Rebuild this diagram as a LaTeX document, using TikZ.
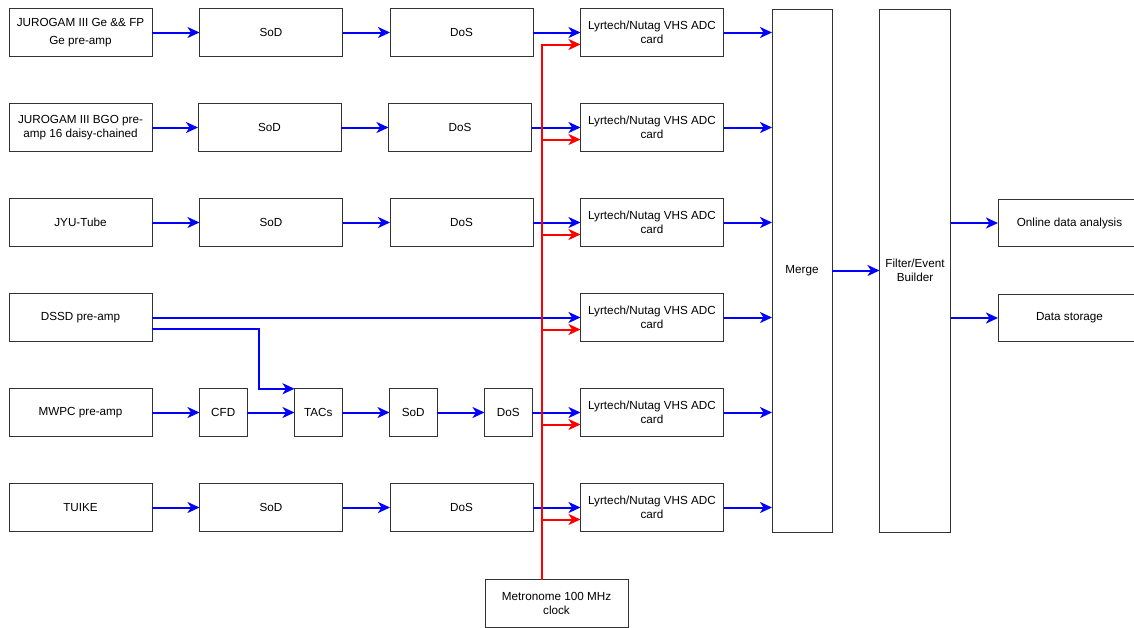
\documentclass[tikz,border=0pt]{standalone}
\usepackage{fontspec}
\setmainfont{Liberation Sans}
\usetikzlibrary{arrows.meta,positioning}

\begin{document}
\begin{tikzpicture}[x=1pt,y=-1pt,>={Stealth[length=12pt,width=11pt,inset=3.5pt]},
                    node distance=47.5pt and 47.5pt]
  \tikzstyle{box}=[draw=black!80,line width=0.9pt,outer sep=0pt,
                   minimum width=143pt,minimum height=47.5pt,inner sep=1pt,
                   align=center,font=\fontsize{11.7}{14}\selectfont]
  \tikzstyle{small}=[box,minimum width=47.5pt]
  \tikzstyle{sig}=[->,blue,line width=2pt]
  \tikzstyle{clk}=[->,red,line width=2pt]

  \useasboundingbox (0,0) rectangle (1134,627);

  \node[box]   (src1) at (80.5,32.5) {JUROGAM III Ge \&\& FP\\[4pt]Ge pre-amp};
  \node[box]   (sod1) [right=of src1] {SoD};
  \node[box]   (dos1) [right=of sod1] {DoS};
  \node[box]   (adc1) [right=of dos1] {Lyrtech/Nutag VHS ADC\\card};

  \node[box]   (src2) [below=of src1] {JUROGAM III BGO pre-\\amp 16 daisy-chained};
  \node[box]   (sod2) [right=46pt of src2] {SoD};
  \node[box]   (dos2) [right=of sod2] {DoS};
  \node[box]   (adc2) [below=of adc1] {Lyrtech/Nutag VHS ADC\\card};

  \node[box]   (src3) [below=of src2] {JYU-Tube};
  \node[box]   (sod3) [right=of src3] {SoD};
  \node[box]   (dos3) [right=of sod3] {DoS};
  \node[box]   (adc3) [below=of adc2] {Lyrtech/Nutag VHS ADC\\card};

  \node[box]   (dssd) [below=of src3] {DSSD pre-amp};
  \node[box]   (adc4) [below=of adc3] {Lyrtech/Nutag VHS ADC\\card};

  \node[box]   (mwpc) [below=of dssd] {MWPC pre-amp};
  \node[small] (cfd)  [right=of mwpc] {CFD};
  \node[small] (tacs) [right=of cfd] {TACs};
  \node[small] (sod5) [right=of tacs] {SoD};
  \node[small] (dos5) [right=of sod5] {DoS};
  \node[box]   (adc5) [below=of adc4] {Lyrtech/Nutag VHS ADC\\card};

  \node[box]   (tuike) [below=of mwpc] {TUIKE};
  \node[box]   (sod6) [right=of tuike] {SoD};
  \node[box]   (dos6) [right=of sod6] {DoS};
  \node[box]   (adc6) [below=of adc5] {Lyrtech/Nutag VHS ADC\\card};

  \node[box]   (metro) at (556.5,603.5) {Metronome 100 MHz\\clock};
  \coordinate  (clk) at ([xshift=-14.5pt]metro.north);

  \node[box,minimum width=60pt,minimum height=523pt] (merge) at (802,270.5) {Merge};
  \node[box,minimum width=71pt,minimum height=523pt] (filter) [right=of merge] {Filter/Event\\Builder};
  \node[box]   (online) at (1069.5,223) {Online data analysis};
  \node[box]   (store)  at (1069.5,318) {Data storage};

  % signal chains
  \path[sig] (src1) edge[sig] (sod1)
             (sod1) edge[sig] (dos1)
             (dos1) edge[sig] (adc1)
             (src2) edge[sig] (sod2)
             (sod2) edge[sig] (dos2)
             (dos2) edge[sig] (adc2)
             (src3) edge[sig] (sod3)
             (sod3) edge[sig] (dos3)
             (dos3) edge[sig] (adc3)
             (dssd) edge[sig] (adc4)
             (mwpc) edge[sig] (cfd)
             (cfd)  edge[sig] (tacs)
             (tacs) edge[sig] (sod5)
             (sod5) edge[sig] (dos5)
             (dos5) edge[sig] (adc5)
             (tuike) edge[sig] (sod6)
             (sod6) edge[sig] (dos6)
             (dos6) edge[sig] (adc6);
  \draw[sig] ([yshift=-11pt]dssd.east) -- ++(107,0) |- (tacs.north west);

  % cards into merge
  \path[sig] (adc1) edge[sig] (adc1 -| merge.west)
             (adc2) edge[sig] (adc2 -| merge.west)
             (adc3) edge[sig] (adc3 -| merge.west)
             (adc4) edge[sig] (adc4 -| merge.west)
             (adc5) edge[sig] (adc5 -| merge.west)
             (adc6) edge[sig] (adc6 -| merge.west)
             (merge) edge[sig] (filter)
             (filter.east |- online) edge[sig] (online)
             (filter.east |- store) edge[sig] (store);

  % clock
  \draw[clk] (clk) |- ([yshift=-12pt]adc1.west);
  \draw[clk] (clk) |- ([yshift=-12pt]adc2.west);
  \draw[clk] (clk) |- ([yshift=-12pt]adc3.west);
  \draw[clk] (clk) |- ([yshift=-12pt]adc4.west);
  \draw[clk] (clk) |- ([yshift=-12pt]adc5.west);
  \draw[clk] (clk) |- ([yshift=-12pt]adc6.west);
\end{tikzpicture}
\end{document}
